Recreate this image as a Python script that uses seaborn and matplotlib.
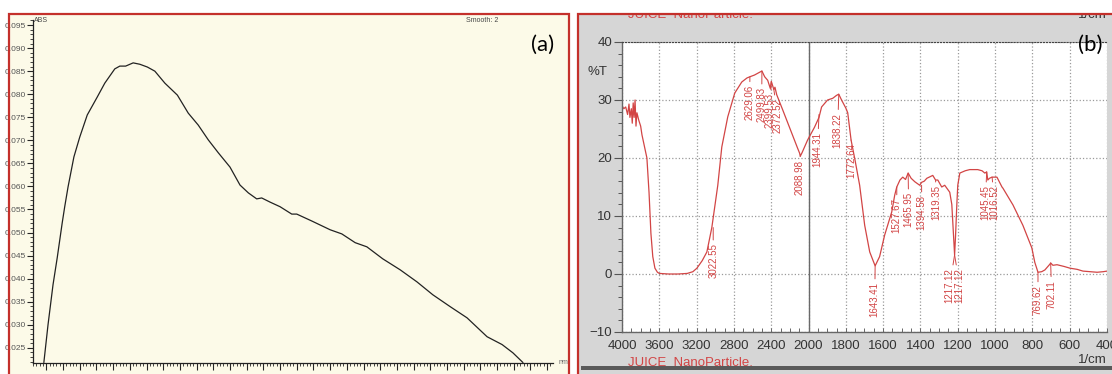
import numpy as np
import pandas as pd
import matplotlib
matplotlib.use("Agg")
import matplotlib.pyplot as plt
import seaborn as sns
from matplotlib.patches import Rectangle
from matplotlib.ticker import MultipleLocator, FixedLocator, FormatStrFormatter

# (a) UV-Vis absorbance spectrum
uv_nm = [197, 202, 208, 213, 219, 222, 226, 233, 240, 249, 261, 270, 282, 288, 295,
         304, 312, 321, 330, 342, 357, 370, 382, 394, 406, 420, 432, 442, 452, 458,
         468, 480, 494, 500, 518, 540, 554, 570, 584, 603, 624, 644, 663, 684, 704,
         728, 746, 759, 771]
uv_abs = [0.0218, 0.0300, 0.0387, 0.0445, 0.0521, 0.0556, 0.0599, 0.0664, 0.0707,
          0.0755, 0.0794, 0.0824, 0.0855, 0.0861, 0.0861, 0.0868, 0.0865, 0.0859,
          0.0850, 0.0824, 0.0798, 0.0759, 0.0733, 0.0701, 0.0673, 0.0642, 0.0603,
          0.0586, 0.0573, 0.0575, 0.0566, 0.0556, 0.0540, 0.0540, 0.0525, 0.0506,
          0.0497, 0.0478, 0.0469, 0.0443, 0.0419, 0.0393, 0.0365, 0.0339, 0.0315,
          0.0274, 0.0257, 0.0239, 0.0218]

# (b) FTIR transmittance spectrum
ir_wn = [4000, 3980, 3960, 3940, 3925, 3915, 3900, 3890, 3880, 3870, 3860, 3850, 3840,
         3820, 3800, 3786, 3760, 3733, 3710, 3690, 3670, 3647, 3620, 3600, 3500, 3400,
         3300, 3240, 3197, 3140, 3090, 3037, 2973, 2930, 2866, 2791, 2716, 2660, 2630,
         2580, 2523, 2500, 2470, 2438, 2410, 2399, 2384, 2372, 2360, 2341, 2277, 2181,
         2120, 2095, 2089, 2070, 2040, 2010, 1968, 1944, 1930, 1898, 1870, 1850, 1838,
         1823, 1800, 1790, 1772, 1750, 1726, 1699, 1672, 1645, 1643, 1619, 1592, 1554,
         1538, 1527, 1510, 1495, 1480, 1466, 1450, 1430, 1404, 1394, 1380, 1366, 1334,
         1319, 1307, 1286, 1270, 1243, 1232, 1222, 1217, 1212, 1205, 1200, 1189, 1160,
         1136, 1093, 1070, 1055, 1045, 1039, 1030, 1017, 990, 963, 958, 904, 851, 803,
         787, 770, 750, 733, 706, 702, 690, 668, 630, 598, 560, 529, 490, 453, 420, 400]
ir_t = [29.0, 28.5, 28.8, 27.5, 29.3, 27.0, 28.5, 26.0, 29.5, 27.0, 30.0, 25.5, 27.8,
        26.5, 25.5, 24.0, 22.0, 20.0, 14.0, 7.0, 3.0, 1.0, 0.3, 0.1, 0.0, 0.0,
        0.1, 0.4, 1.0, 2.3, 3.8, 8.0, 15.3, 21.9, 27.1, 31.2, 33.1, 33.8, 34.0,
        34.3, 34.8, 35.0, 34.0, 33.4, 32.0, 33.2, 32.4, 31.8, 32.2, 30.9, 28.3, 24.3,
        21.8, 20.8, 20.3, 20.9, 22.0, 23.1, 25.3, 27.0, 28.8, 30.0, 30.3, 30.8, 31.0,
        30.0, 28.6, 27.8, 23.1, 19.5, 15.3, 8.4, 3.8, 1.6, 1.4, 3.0, 6.7, 10.7,
        13.6, 15.0, 16.2, 16.7, 16.3, 17.4, 16.5, 15.9, 15.3, 15.8, 16.0, 16.5, 17.0,
        16.2, 16.2, 15.0, 15.3, 14.1, 12.0, 6.0, 3.3, 6.5, 12.0, 15.3, 17.4, 17.8,
        18.0, 18.0, 17.8, 17.4, 17.6, 16.2, 16.5, 16.7, 16.7, 15.0, 14.8, 11.9, 8.4, 4.5,
        2.0, 0.3, 0.4, 0.7, 1.7, 1.9, 1.5, 1.6, 1.3, 1.0, 0.8, 0.5, 0.4, 0.3, 0.4, 0.5]

# peak annotations: label, peak position, curve value, text x, text top
peak_labels = ["3022.55", "2629.06", "2499.83", "2399.53", "2372.52", "2088.98",
               "1944.31", "1838.22", "1772.64", "1643.41", "1527.67", "1465.95",
               "1394.58", "1319.35", "1217.12", "1217.12", "1045.45", "1016.52",
               "769.62", "702.11"]
peak_wn = [3022, 2629, 2500, 2399, 2372, 2089, 1944, 1838, 1772, 1643, 1527, 1466,
           1394, 1319, 1217, 1217, 1045, 1016, 770, 702]
peak_t = [8.0, 34.0, 35.0, 33.2, 31.8, 20.3, 27.5, 31.0, 23.1, 1.4, 15.0, 17.4,
          15.3, 16.2, 3.3, 3.3, 17.6, 16.7, 0.3, 1.9]
text_wn = [3022, 2630, 2502, 2415, 2330, 2093, 1952, 1844, 1769, 1645, 1527, 1463,
           1393, 1313, 1243, 1190, 1052, 1003, 770, 697]
text_top = [5.3, 32.6, 32.2, 31.2, 30.3, 19.7, 24.5, 27.8, 22.5, -1.4, 13.1, 14.1,
            13.6, 15.3, 1.0, 1.0, 15.3, 15.3, -1.9, -1.0]

uv_df = pd.DataFrame({"nm": uv_nm, "abs": uv_abs})
ir_df = pd.DataFrame({"wn": ir_wn, "t": ir_t})

sns.set_style("white")
plt.rcParams["font.family"] = ["Liberation Sans", "DejaVu Sans"]

W, H = 1112, 374
fig = plt.figure(figsize=(W / 100, H / 100), dpi=100)
fig.patch.set_facecolor("white")


def box(x0, y0, x1, y1, **kw):
    fig.patches.append(Rectangle((x0 / W, 1 - y1 / H), (x1 - x0) / W, (y1 - y0) / H,
                                 transform=fig.transFigure, **kw))


red = "#c4302b"
line_red = "#d24545"

# panel backgrounds
box(9, 14, 569, 380, facecolor="#fcfae8", edgecolor="none", zorder=-5)
box(578, 14, 1115, 380, facecolor="#d6d6d6", edgecolor="none", zorder=-5)
box(581, 366, 1115, 370, facecolor="#5a5a5a", edgecolor="none", zorder=-4)

# ---- (a) ----
ax1 = fig.add_axes([33 / W, 11 / H, 520 / W, 343 / H])
ax1.set_facecolor("none")
sns.lineplot(data=uv_df, x="nm", y="abs", ax=ax1, color="#222222", lw=0.9,
             estimator=None, sort=False)
ax1.set_xlim(184, 807)
ax1.set_ylim(0.0217, 0.0961)
ax1.yaxis.set_major_locator(MultipleLocator(0.005))
ax1.yaxis.set_minor_locator(MultipleLocator(0.001))
ax1.yaxis.set_major_formatter(FormatStrFormatter("%.3f"))
ax1.xaxis.set_major_locator(MultipleLocator(20))
ax1.xaxis.set_minor_locator(MultipleLocator(4))
ax1.tick_params(axis="y", which="major", length=4, width=0.8, labelsize=6,
                labelcolor="#555555", pad=1, direction="out", left=True)
ax1.tick_params(axis="y", which="minor", length=2, width=0.6, left=True)
ax1.tick_params(axis="x", which="major", length=5, width=0.8, labelbottom=False,
                direction="out", bottom=True)
ax1.tick_params(axis="x", which="minor", length=2.5, width=0.6, bottom=True)
for s in ["top", "right"]:
    ax1.spines[s].set_visible(False)
for s in ["left", "bottom"]:
    ax1.spines[s].set_color("#222222")
    ax1.spines[s].set_linewidth(0.9)
ax1.set_xlabel("")
ax1.set_ylabel("")

fig.text(34 / W, 1 - 20 / H, "ABS", fontsize=5, color="#444444", va="center")
fig.text(482 / W, 1 - 20 / H, "Smooth: 2", fontsize=5, color="#444444",
         va="center", ha="center")
fig.text(563 / W, 1 - 362 / H, "nm", fontsize=5, color="#666666",
         va="center", ha="center")
fig.text(543 / W, 1 - 45 / H, "(a)", fontsize=16, family=["Lato", "DejaVu Sans"],
         ha="center", va="center", color="black")

# ---- (b) ----
ax2 = fig.add_axes([622 / W, 42 / H, 485 / W, 290 / H])
ax2.set_facecolor("white")


def fwd(x):
    x = np.asarray(x, dtype=float)
    return np.where(x > 2000, 2000 + (x - 2000) / 2, x)


def inv(u):
    u = np.asarray(u, dtype=float)
    return np.where(u > 2000, 2000 + (u - 2000) * 2, u)


sns.lineplot(data=ir_df, x="wn", y="t", ax=ax2, color=line_red, lw=0.9,
             estimator=None, sort=False)
ax2.set_xscale("function", functions=(fwd, inv))
ax2.set_xlim(4000, 400)
ax2.set_ylim(-10, 40)

major_x = [4000, 3600, 3200, 2800, 2400, 2000, 1800, 1600, 1400, 1200, 1000, 800, 600, 400]
minor_x = list(range(3900, 2000, -100)) + list(range(1950, 400, -50))
ax2.xaxis.set_major_locator(FixedLocator(major_x))
ax2.xaxis.set_minor_locator(FixedLocator(minor_x))
ax2.xaxis.set_major_formatter(FormatStrFormatter("%d"))
ax2.yaxis.set_major_locator(MultipleLocator(10))
ax2.yaxis.set_minor_locator(MultipleLocator(2))
ax2.tick_params(axis="x", which="both", direction="in", length=3, width=0.7,
                bottom=True, labelsize=9.5, labelcolor="#333333", pad=6,
                color="#666666")
ax2.tick_params(axis="y", which="major", direction="out", length=6, width=0.8,
                left=True, labelsize=9.5, labelcolor="#333333", pad=1,
                color="#555555")
ax2.tick_params(axis="y", which="minor", direction="out", length=3, width=0.7,
                left=True, color="#555555")
ax2.grid(True, which="major", linestyle=":", color="#9a9a9a", lw=0.9)
ax2.axvline(2000, color="#6a6a6a", lw=1.0, zorder=1)
ax2.spines["top"].set_linestyle(":")
ax2.spines["top"].set_color("#444444")
ax2.spines["right"].set_visible(False)
for s in ["left", "bottom"]:
    ax2.spines[s].set_color("#666666")
    ax2.spines[s].set_linewidth(1.0)
ax2.set_xlabel("")
ax2.set_ylabel("")

for lab, pw, pt, tw, tt in zip(peak_labels, peak_wn, peak_t, text_wn, text_top):
    ax2.annotate(lab, xy=(pw, pt), xytext=(tw, tt), rotation=90, ha="center",
                 va="top", fontsize=7, color=line_red,
                 arrowprops=dict(arrowstyle="-", color=line_red, lw=0.7,
                                 shrinkA=0, shrinkB=0))

fig.text(597 / W, 1 - 72 / H, "%T", fontsize=9.5, color="#333333",
         ha="center", va="center")
fig.text(628 / W, 1 - 363 / H, "JUICE  NanoParticle.", fontsize=9.5, color=line_red,
         ha="left", va="center")
fig.text(1107 / W, 1 - 360 / H, "1/cm", fontsize=9.5, color="#333333",
         ha="right", va="center")
# header texts clipped by the screenshot edge
fig.text(628 / W, 1 - 15 / H, "JUICE  NanoParticle.", fontsize=9.5, color=line_red,
         ha="left", va="center", zorder=3)
fig.text(1107 / W, 1 - 15 / H, "1/cm", fontsize=9.5, color="#333333",
         ha="right", va="center", zorder=3)
box(-5, -5, 1120, 14, facecolor="white", edgecolor="none", zorder=4)
fig.text(1090 / W, 1 - 45 / H, "(b)", fontsize=16, family=["Lato", "DejaVu Sans"],
         ha="center", va="center", color="black", zorder=6)

# red frames
box(9, 14, 569, 390, fill=False, edgecolor=red, lw=1.6, zorder=5)
box(578, 14, 1125, 390, fill=False, edgecolor=red, lw=1.6, zorder=5)

fig.savefig("out.png", dpi=100)
